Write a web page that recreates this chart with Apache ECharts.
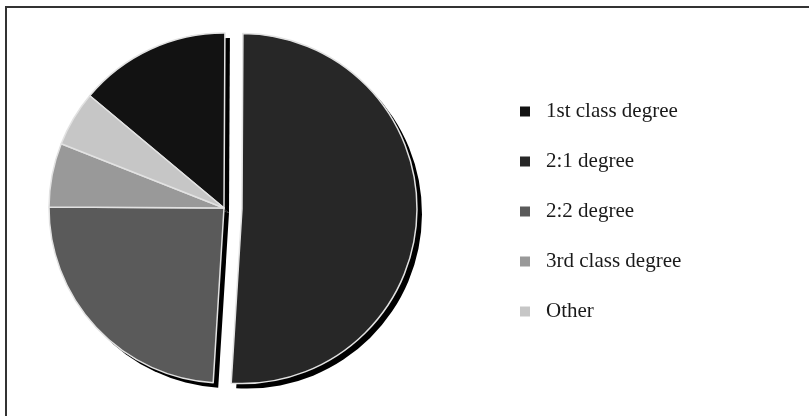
<!DOCTYPE html>
<html>
<head>
<meta charset="utf-8">
<style>
  html, body { margin: 0; padding: 0; background: #fff; }
  #chart { width: 809px; height: 416px; }
</style>
<script src="https://cdn.jsdelivr.net/npm/echarts@6/dist/echarts.min.js"></script>
</head>
<body>
<div id="chart"></div>
<script>
// Degree classifications and their shares (%)
const categories = ['1st class degree', '2:1 degree', '2:2 degree', '3rd class degree', 'Other'];
const shares = [14.0, 50.9, 24.1, 5.9, 5.1];
const sliceColors = ['#121212', '#272727', '#5a5a5a', '#999999', '#c6c6c6'];
const pulledOut = '2:1 degree';

const pieCenter = [224, 208];
const pieRadius = 175;
const pullDistance = 18;
const startAngle = 140.1;

const chart = echarts.init(document.getElementById('chart'), null, { renderer: 'canvas' });

const sliceData = categories.map((name, i) => ({
  name: name,
  value: shares[i],
  selected: name === pulledOut,
  itemStyle: { color: sliceColors[i] }
}));

// Flat black copy of the pie, nudged down-right, acting as a drop shadow
const shadowData = categories.map((name, i) => ({
  name: name,
  value: shares[i],
  selected: name === pulledOut,
  itemStyle: { color: '#000' }
}));

chart.setOption({
  animation: false,
  backgroundColor: '#fff',
  graphic: [{
    type: 'polyline',
    shape: { points: [[6, 416], [6, 7], [809, 7]] },
    style: { stroke: '#333', lineWidth: 2, fill: null },
    silent: true
  }],
  legend: {
    orient: 'vertical',
    left: 520,
    top: 101,
    padding: 0,
    itemWidth: 10,
    itemHeight: 10,
    itemGap: 29,
    icon: 'rect',
    selectedMode: false,
    data: categories.map((name, i) => ({ name: name, itemStyle: { color: sliceColors[i] } })),
    textStyle: {
      fontFamily: '"Liberation Serif", "DejaVu Serif", serif',
      fontSize: 21,
      lineHeight: 20,
      color: '#1a1a1a',
      padding: [0, 0, 0, 11]
    }
  },
  series: [
    {
      type: 'pie',
      name: 'shadow',
      z: 1,
      silent: true,
      center: [pieCenter[0] + 5, pieCenter[1] + 5],
      radius: pieRadius,
      startAngle: startAngle,
      clockwise: true,
      selectedMode: 'single',
      selectedOffset: pullDistance,
      label: { show: false },
      labelLine: { show: false },
      emphasis: { disabled: true },
      itemStyle: { borderWidth: 0 },
      data: shadowData
    },
    {
      type: 'pie',
      name: 'Degrees',
      z: 2,
      center: pieCenter,
      radius: pieRadius,
      startAngle: startAngle,
      clockwise: true,
      selectedMode: 'single',
      selectedOffset: pullDistance,
      label: { show: false },
      labelLine: { show: false },
      emphasis: { disabled: true },
      itemStyle: { borderColor: '#e2e2e2', borderWidth: 1.5 },
      data: sliceData
    }
  ]
});
</script>
</body>
</html>
